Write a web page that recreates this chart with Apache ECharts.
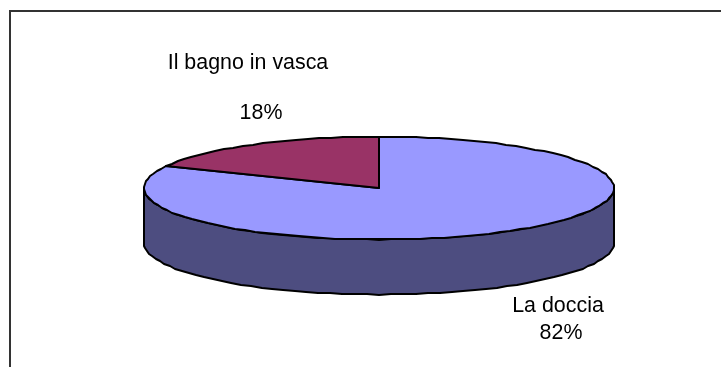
<!DOCTYPE html>
<html>
<head>
<meta charset="utf-8">
<style>html,body{margin:0;padding:0;background:#fff}#c{width:721px;height:367px}</style>
<script src="https://cdn.jsdelivr.net/npm/echarts@6/dist/echarts.min.js"></script>
</head>
<body>
<div id="c"></div>
<script>
const categories = ['La doccia', 'Il bagno in vasca'];
const values = [82, 18];
const topColors = ['#9999ff', '#993366'];
const sideColors = ['#4d4d80', '#4d1a33'];

// layout, in axis units that equal pixels
const cx = 379, cy = 188, rx = 235, ry = 51.5, depth = 55;
const labelPos = [
  { name: [558, 306.5], value: [561, 333.5] },
  { name: [248, 63.5], value: [261, 113.5] }
];
const total = values.reduce((a, b) => a + b, 0);
const FONT = '21.4px "Liberation Sans", Arial, sans-serif';

function pt(api, deg, dy) {
  const a = deg * Math.PI / 180;
  const p = api.coord([cx + rx * Math.sin(a), cy - ry * Math.cos(a) + (dy || 0)]);
  return [Math.round(p[0]), Math.round(p[1])];
}
function arc(api, from, to, dy) {
  const pts = [];
  const n = Math.max(2, Math.ceil(Math.abs(to - from) / 3));
  for (let i = 0; i <= n; i++) pts.push(pt(api, from + (to - from) * i / n, dy));
  return pts;
}
function renderItem(params, api) {
  const i = params.dataIndex;
  let before = 0;
  for (let k = 0; k < i; k++) before += values[k];
  const start = before / total * 360;
  const end = (before + api.value(1)) / total * 360;
  const style = { lineWidth: 2, stroke: '#000', lineJoin: 'round' };
  const children = [];
  const fs = Math.max(start, 90), fe = Math.min(end, 270);
  if (fe > fs) {
    const points = arc(api, fs, fe, 0).concat(arc(api, fe, fs, depth));
    children.push({ type: 'polygon', shape: { points }, style: Object.assign({ fill: sideColors[i] }, style) });
  }
  const points = [api.coord([cx, cy])].concat(arc(api, start, end, 0));
  children.push({ type: 'polygon', shape: { points }, style: Object.assign({ fill: topColors[i] }, style) });
  const n = api.coord(labelPos[i].name), v = api.coord(labelPos[i].value);
  children.push({ type: 'text', style: { x: n[0], y: n[1], text: categories[i], font: FONT, fill: '#000', align: 'center', verticalAlign: 'middle' } });
  children.push({ type: 'text', style: { x: v[0], y: v[1], text: api.value(1) + '%', font: FONT, fill: '#000', align: 'center', verticalAlign: 'middle' } });
  return { type: 'group', children };
}

const chart = echarts.init(document.getElementById('c'), null, { renderer: 'canvas' });
chart.setOption({
  animation: false,
  backgroundColor: '#fff',
  grid: { left: 0, right: 0, top: 0, bottom: 0 },
  xAxis: { type: 'value', min: 0, max: 721, show: false },
  yAxis: { type: 'value', min: 0, max: 367, inverse: true, show: false },
  graphic: [{
    type: 'polyline', silent: true,
    shape: { points: [[10, 367], [10, 11], [721, 11]] },
    style: { stroke: '#333', lineWidth: 2, fill: null }
  }],
  series: [{
    type: 'custom',
    coordinateSystem: 'cartesian2d',
    renderItem,
    silent: true,
    clip: false,
    data: values.map((v, i) => [i, v])
  }]
});
</script>
</body>
</html>
